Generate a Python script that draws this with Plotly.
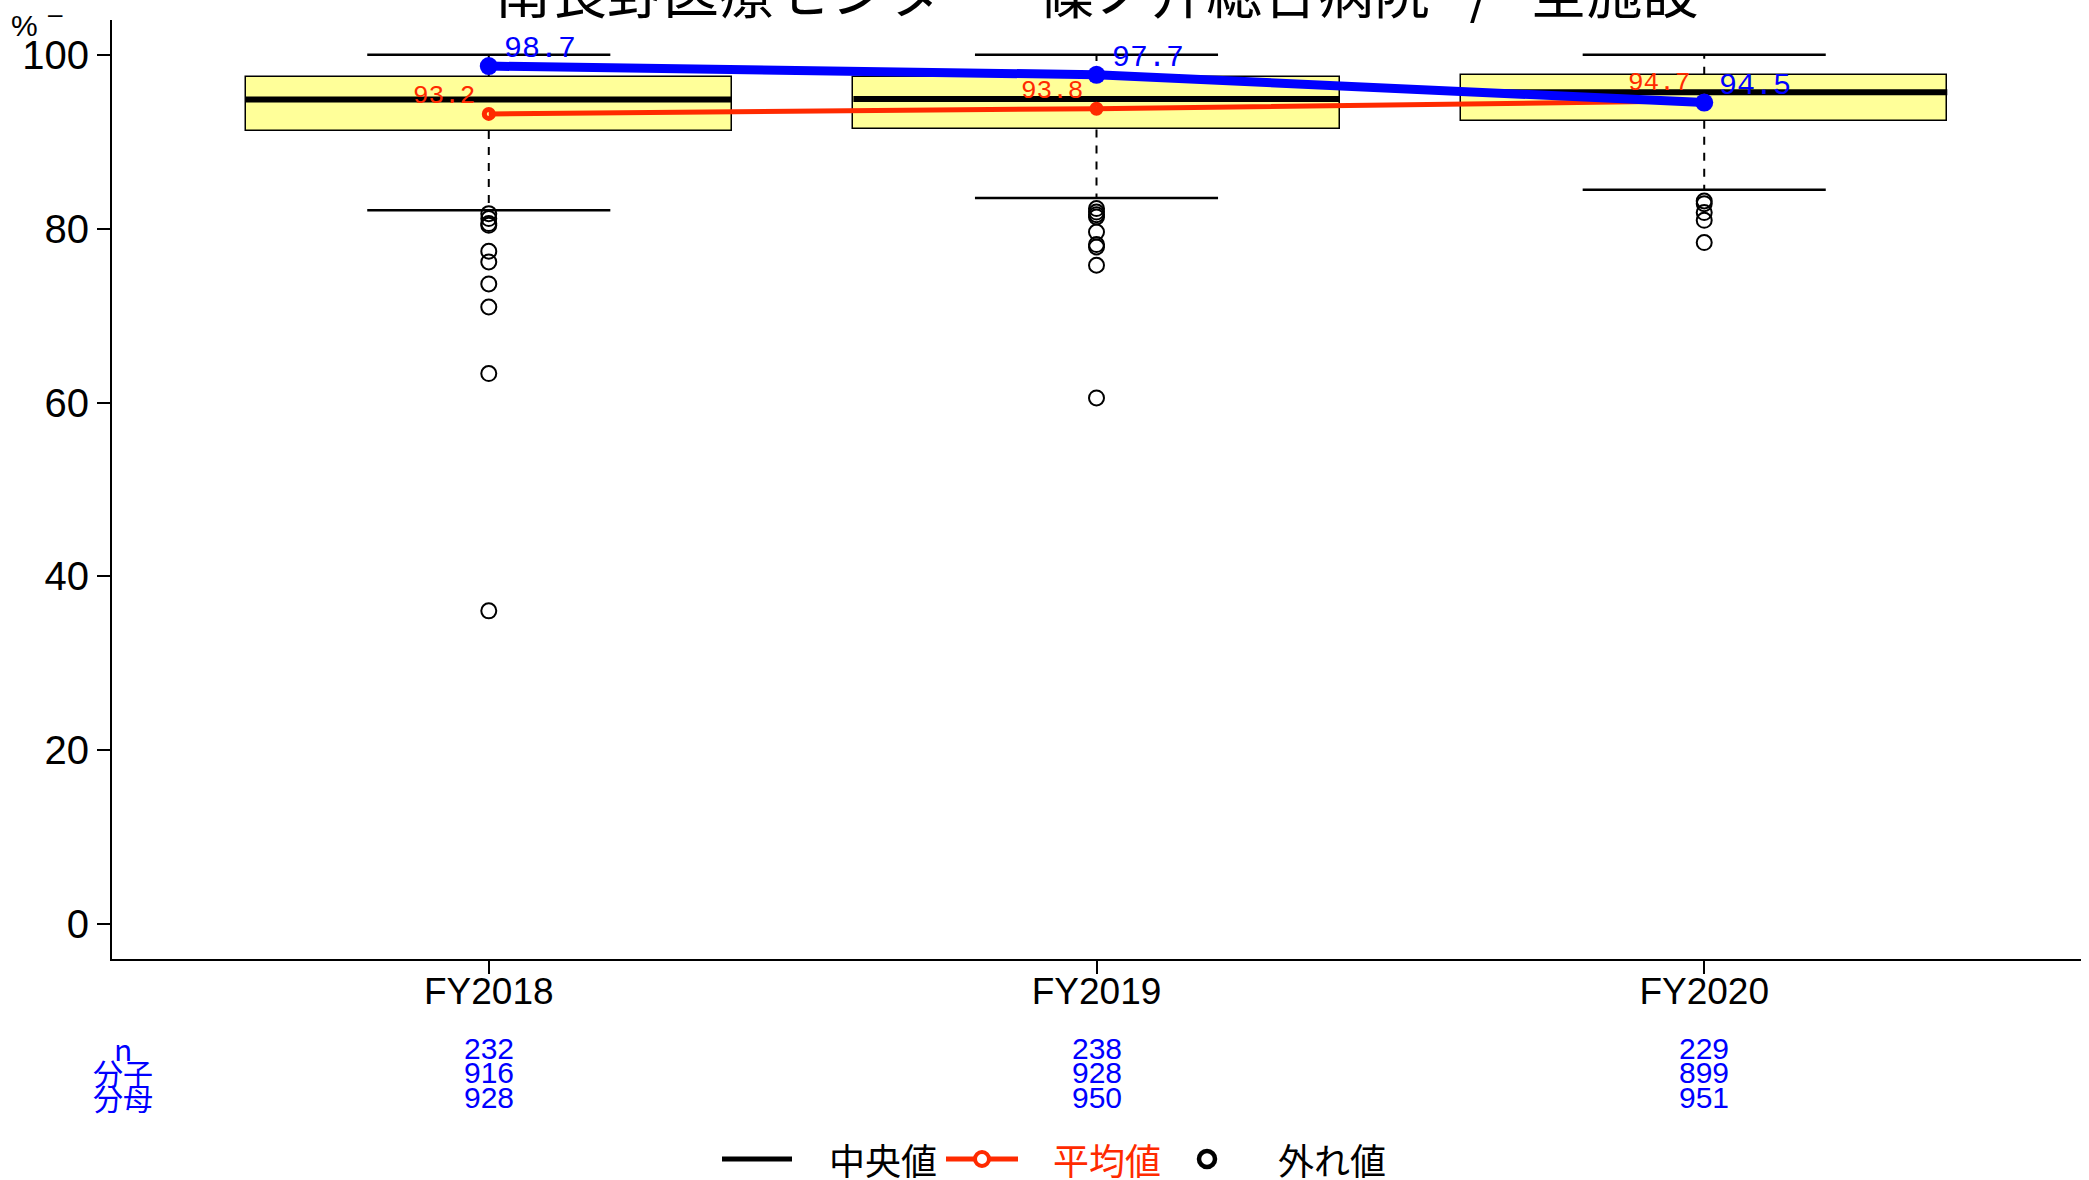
import plotly.graph_objects as go

# ---------------- data ----------------
categories = ["FY2018", "FY2019", "FY2020"]
q1 = [91.23, 91.42, 92.42]
median = [94.87, 94.90, 95.68]
q3 = [97.44, 97.44, 97.71]
whisker_low = [82.11, 83.52, 84.49]
whisker_high = [100.0, 100.0, 100.0]
outliers_2018 = [81.73, 81.16, 80.58, 80.39, 77.40, 76.17, 73.64, 70.99, 63.33, 36.04]
outliers_2019 = [82.31, 81.91, 81.61, 81.34, 79.61, 78.17, 77.89, 75.79, 60.53]
outliers_2020 = [83.18, 82.88, 81.85, 80.96, 78.40]
mean_values = [93.2, 93.8, 94.7]
facility_values = [98.7, 97.7, 94.5]
n_values = [232, 238, 229]
numerator_values = [916, 928, 899]
denominator_values = [928, 950, 951]
y_tick_values = [0, 20, 40, 60, 80, 100]
title_text = "南長野医療センター\u2002\u2009篠ノ井総合病院\u2002\u2009/\u2002\u2009全施設"
legend_labels = ["中央値", "平均値", "外れ値"]
row_labels = ["n", "分子", "分母"]

# ---------------- style ----------------
W, H = 2089, 1180
ML, MR, MT, MB = 112, 8, 20, 221
PW, PH = W - ML - MR, H - MT - MB
BOX_W = 0.8
CAP_W = 0.4
YELLOW = "#FFFF99"
BLUE = "#0000FF"
RED = "#FF2A00"
SANS = "Liberation Sans, Arial, sans-serif"
MONO = "Liberation Mono, DejaVu Sans Mono, monospace"
CJK = "Noto Sans CJK JP, Noto Sans CJK SC, sans-serif"

def px_x(p):
    return (p - ML) / PW

def px_y(p):
    return (H - MB - p) / PH

xs = list(range(len(categories)))
fig = go.Figure()

# box bodies
fig.add_trace(go.Bar(
    x=xs, y=[b - a for a, b in zip(q1, q3)], base=q1, width=BOX_W,
    marker=dict(color=YELLOW, line=dict(color="black", width=1.5)),
    hoverinfo="skip", showlegend=False))

# whiskers (dashed)
wx, wy = [], []
for i in xs:
    wx += [i, i, None, i, i, None]
    wy += [q3[i], whisker_high[i], None, q1[i], whisker_low[i], None]
fig.add_trace(go.Scatter(x=wx, y=wy, mode="lines",
                         line=dict(color="black", width=2, dash="8px,8px"),
                         hoverinfo="skip", showlegend=False))

# caps
cx, cy = [], []
for i in xs:
    cx += [i - CAP_W / 2, i + CAP_W / 2, None, i - CAP_W / 2, i + CAP_W / 2, None]
    cy += [whisker_high[i], whisker_high[i], None, whisker_low[i], whisker_low[i], None]
fig.add_trace(go.Scatter(x=cx, y=cy, mode="lines",
                         line=dict(color="black", width=2.5),
                         hoverinfo="skip", showlegend=False))

# medians
mx, my = [], []
for i in xs:
    mx += [i - BOX_W / 2, i + BOX_W / 2, None]
    my += [median[i], median[i], None]
fig.add_trace(go.Scatter(x=mx, y=my, mode="lines",
                         line=dict(color="black", width=6),
                         hoverinfo="skip", showlegend=False))

# outliers
ox, oy = [], []
for i, arr in enumerate([outliers_2018, outliers_2019, outliers_2020]):
    ox += [i] * len(arr)
    oy += arr
fig.add_trace(go.Scatter(x=ox, y=oy, mode="markers",
                         marker=dict(symbol="circle-open", size=15, color="black",
                                     line=dict(width=2, color="black")),
                         hoverinfo="skip", showlegend=False))

# mean line
fig.add_trace(go.Scatter(x=xs, y=mean_values, mode="lines+markers",
                         line=dict(color=RED, width=5),
                         marker=dict(symbol="circle-open", size=9, color=RED,
                                     line=dict(width=5, color=RED)),
                         hoverinfo="skip", showlegend=False))

# facility line
fig.add_trace(go.Scatter(x=xs, y=facility_values, mode="lines+markers",
                         line=dict(color=BLUE, width=9),
                         marker=dict(symbol="circle", size=18, color=BLUE),
                         hoverinfo="skip", showlegend=False))

annotations = []
for i in xs:
    annotations.append(dict(x=i, y=mean_values[i], xref="x", yref="y",
                            text=f"{mean_values[i]:.1f}", showarrow=False,
                            xanchor="right", yanchor="middle", xshift=-12, yshift=18,
                            font=dict(family=MONO, size=26, color=RED)))
    annotations.append(dict(x=i, y=facility_values[i], xref="x", yref="y",
                            text=f"{facility_values[i]:.1f}", showarrow=False,
                            xanchor="left", yanchor="middle", xshift=13, yshift=17,
                            font=dict(family=MONO, size=30, color=BLUE)))

# data table below axis
row_y = [px_y(1048), px_y(1072), px_y(1097)]
for r, (lab, vals) in enumerate(zip(row_labels, [n_values, numerator_values, denominator_values])):
    annotations.append(dict(x=px_x(123), y=row_y[r], xref="paper", yref="paper",
                            text=lab, showarrow=False, xanchor="center", yanchor="middle",
                            font=dict(family=CJK, size=30, color=BLUE)))
    for i in xs:
        annotations.append(dict(x=i, y=row_y[r], xref="x", yref="paper",
                                text=str(vals[i]), showarrow=False,
                                xanchor="center", yanchor="middle",
                                font=dict(family=SANS, size=30, color=BLUE)))

# title (clipped at top like reference)
annotations.append(dict(x=0.5, y=px_y(-11), xref="paper", yref="paper", text=title_text,
                        showarrow=False, xanchor="center", yanchor="middle",
                        font=dict(family=CJK, size=56, color="black")))
# y unit
annotations.append(dict(x=px_x(24), y=px_y(25), xref="paper", yref="paper", text="%",
                        showarrow=False, xanchor="center", yanchor="middle",
                        font=dict(family=SANS, size=30, color="black")))
annotations.append(dict(x=px_x(55), y=px_y(14), xref="paper", yref="paper", text="–",
                        showarrow=False, xanchor="center", yanchor="middle",
                        font=dict(family=SANS, size=26, color="black")))

# manual legend
LY = px_y(1159)
shapes = []
shapes.append(dict(type="line", xref="paper", yref="paper", x0=px_x(722), x1=px_x(792),
                   y0=LY, y1=LY, line=dict(color="black", width=5)))
shapes.append(dict(type="line", xref="paper", yref="paper", x0=px_x(946), x1=px_x(1018),
                   y0=LY, y1=LY, line=dict(color=RED, width=5)))
shapes.append(dict(type="circle", xref="paper", yref="paper", xsizemode="pixel", ysizemode="pixel",
                   xanchor=px_x(982), yanchor=LY, x0=-7, x1=7, y0=-7, y1=7,
                   fillcolor="white", line=dict(color=RED, width=4)))
shapes.append(dict(type="circle", xref="paper", yref="paper", xsizemode="pixel", ysizemode="pixel",
                   xanchor=px_x(1207), yanchor=LY, x0=-8, x1=8, y0=-8, y1=8,
                   fillcolor="white", line=dict(color="black", width=4.5)))
for lab, xpx, col in zip(legend_labels, [827, 1051, 1276], ["black", RED, "black"]):
    annotations.append(dict(x=px_x(xpx), y=LY, xref="paper", yref="paper", text=lab,
                            showarrow=False, xanchor="left", yanchor="middle",
                            font=dict(family=CJK, size=36, color=col)))

fig.update_layout(
    width=W, height=H, margin=dict(l=ML, r=MR, t=MT, b=MB),
    paper_bgcolor="white", plot_bgcolor="white",
    showlegend=False, annotations=annotations, shapes=shapes,
    xaxis=dict(range=[-0.62, 2.62], tickmode="array", tickvals=xs, ticktext=categories,
               showgrid=False, zeroline=False, showline=True, linecolor="black", linewidth=2,
               ticks="outside", ticklen=13, tickwidth=1.5, tickcolor="black",
               ticklabelstandoff=-14,
               tickfont=dict(family=SANS, size=37, color="black")),
    yaxis=dict(range=[-4, 104], tickmode="array", tickvals=y_tick_values,
               showgrid=False, zeroline=False, showline=True, linecolor="black", linewidth=2,
               ticks="outside", ticklen=13, tickwidth=1.5, tickcolor="black",
               tickfont=dict(family=SANS, size=40, color="black")),
    bargap=0,
)

fig.write_html("out.html", config={"displayModeBar": False},
               post_script="document.body.style.margin='0';")
